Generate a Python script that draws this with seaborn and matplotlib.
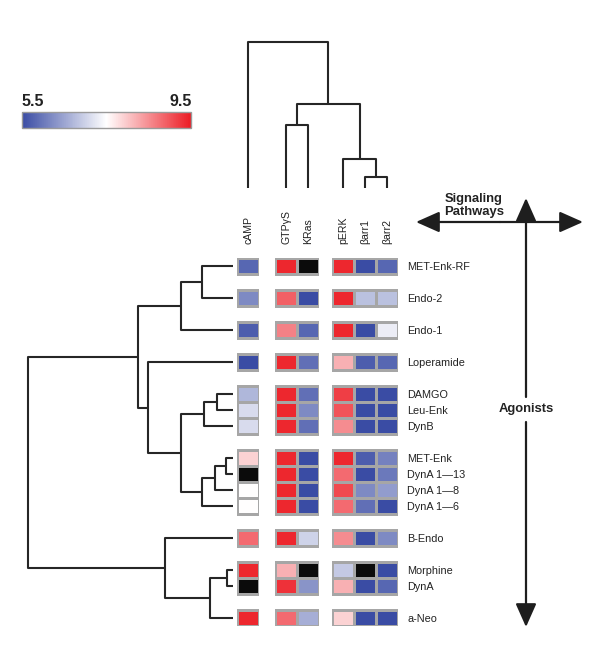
"""
Opioid agonist signaling heatmap with row/column dendrograms
"""

import numpy as np
import pandas as pd
import matplotlib
matplotlib.use("Agg")
import matplotlib.pyplot as plt
import seaborn as sns
from matplotlib.colors import LinearSegmentedColormap, Normalize, to_rgba
from matplotlib.cm import ScalarMappable

# ---------------- data ----------------
pathway_groups = [["cAMP"], ["GTPγS", "KRas"], ["pERK", "βarr1", "βarr2"]]

agonist_groups = [
    ["MET-Enk-RF"],
    ["Endo-2"],
    ["Endo-1"],
    ["Loperamide"],
    ["DAMGO", "Leu-Enk", "DynB"],
    ["MET-Enk", "DynA 1—13", "DynA 1—8", "DynA 1—6"],
    ["B-Endo"],
    ["Morphine", "DynA"],
    ["a-Neo"],
]

# values per pathway, in agonist order (nan = not measured, drawn black)
camp = [5.8, 6.2, 5.7, 5.5, 6.7, 7.1, 7.1, 7.9, np.nan, 7.5, 7.5, 8.8, 9.4, np.nan, 9.4]
gtpgs = [9.4, 8.9, 8.6, 9.4, 9.4, 9.4, 9.4, 9.4, 9.4, 9.4, 9.4, 9.4, 8.2, 9.3, 8.8]
kras = [np.nan, 5.5, 5.8, 5.9, 5.9, 6.2, 5.9, 5.5, 5.5, 5.5, 5.5, 7.0, np.nan, 6.3, 6.6]
perk = [9.4, 9.4, 9.4, 8.2, 9.2, 9.0, 8.5, 9.4, 8.8, 9.1, 8.8, 8.5, 6.9, 8.2, 7.9]
barr1 = [5.5, 6.8, 5.5, 5.7, 5.5, 5.5, 5.5, 5.7, 5.5, 6.2, 5.9, 5.5, np.nan, 5.5, 5.5]
barr2 = [5.8, 6.8, 7.3, 5.8, 5.5, 5.5, 5.5, 6.1, 6.0, 6.4, 5.5, 6.2, 5.5, 5.8, 5.5]

# dendrogram merges: (child, child, height); ints refer to earlier merges
row_merges = [
    ("MET-Enk-RF", "Endo-2", 31),
    (0, "Endo-1", 52),
    ("DAMGO", "Leu-Enk", 16),
    (2, "DynB", 29),
    ("MET-Enk", "DynA 1—13", 7),
    (4, "DynA 1—8", 18),
    (5, "DynA 1—6", 31),
    (3, 6, 52),
    ("Loperamide", 7, 85),
    (1, 8, 95),
    ("Morphine", "DynA", 6),
    (10, "a-Neo", 23),
    ("B-Endo", 11, 68),
    (9, 12, 205),
]
col_merges = [
    ("βarr1", "βarr2", 11),
    ("pERK", 0, 29),
    ("GTPγS", "KRas", 63),
    (2, 1, 84),
    ("cAMP", 3, 146),
]

# ---------------- layout (pixels) ----------------
W, H = 600, 651
row_top, slot_h = 258, 16.0
cell_w = 22
group_left = [237, 275, 332]
vmin, vmax = 5.5, 9.5
edge = "#a6a6a6"

plt.rcParams['font.family'] = ['Liberation Sans', 'DejaVu Sans']

cmap = LinearSegmentedColormap.from_list(
    "bwr_sig", ["#3a4ca4", "#ffffff", "#ec1c24"])
cmap.set_over("#0b0b0b")

fig = plt.figure(figsize=(W / 100, H / 100), dpi=100)


def px_axes(x0, y0, w, h, **kw):
    return fig.add_axes([x0 / W, 1 - (y0 + h) / H, w / W, h / H], **kw)


# overlay for dendrograms, arrows and text
ax0 = px_axes(0, 0, W, H, zorder=0)
ax0.set_xlim(0, W)
ax0.set_ylim(H, 0)
ax0.axis("off")

agonists = [a for g in agonist_groups for a in g]
data = pd.DataFrame({"cAMP": camp, "GTPγS": gtpgs, "KRas": kras,
                     "pERK": perk, "βarr1": barr1, "βarr2": barr2},
                    index=agonists)

# slots: data rows separated by one blank spacer row
slots = []
for i, g in enumerate(agonist_groups):
    if i > 0:
        slots.append(None)
    slots.extend(g)
n_slots = len(slots)
row_center = {a: row_top + (slots.index(a) + 0.5) * slot_h for a in agonists}
col_center = {}

for gi, cols in enumerate(pathway_groups):
    block = []
    for s in slots:
        if s is None:
            block.append([np.nan] * len(cols))
        else:
            vals = data.loc[s, cols].to_numpy(dtype=float)
            block.append(np.where(np.isnan(vals), vmax + 1, vals))
    df = pd.DataFrame(block, columns=cols)
    ax = px_axes(group_left[gi], row_top, cell_w * len(cols), n_slots * slot_h, zorder=2)
    sns.heatmap(df, ax=ax, cmap=cmap, vmin=vmin, vmax=vmax, cbar=False,
                linewidths=0.8, linecolor=edge, xticklabels=True, yticklabels=False)
    # hide the grid lines of the spacer rows
    mesh = ax.collections[0]
    ec = [to_rgba(edge) if s is not None else (0, 0, 0, 0)
          for s in slots for _ in cols]
    mesh.set_edgecolor(ec)
    ax.xaxis.tick_top()
    ax.set_xticklabels(cols, rotation=90, fontsize=7.6, color="#222")
    ax.tick_params(axis="x", length=0, pad=10)
    ax.set_ylabel("")
    for j, c in enumerate(cols):
        col_center[c] = group_left[gi] + (j + 0.5) * cell_w
    if gi == len(pathway_groups) - 1:
        idx = [i for i, s in enumerate(slots) if s is not None]
        ax.yaxis.tick_right()
        ax.set_yticks([i + 0.5 for i in idx])
        ax.set_yticklabels([slots[i] for i in idx], rotation=0, fontsize=7.8, color="#222")
        ax.tick_params(axis="y", length=0, pad=6.5)


def draw_tree(merges, leaf_pos, base, direction, horizontal):
    pos = dict(leaf_pos)
    hgt = {k: 0 for k in leaf_pos}
    for i, (a, b, d) in enumerate(merges):
        pa, pb, ha, hb = pos[a], pos[b], hgt[a], hgt[b]
        h = [base + direction * ha, base + direction * d, base + direction * d, base + direction * hb]
        p = [pa, pa, pb, pb]
        if horizontal:
            ax0.plot(h, p, color="#262626", lw=1.5, solid_capstyle="butt")
        else:
            ax0.plot(p, h, color="#262626", lw=1.5, solid_capstyle="butt")
        pos[i] = (pa + pb) / 2
        hgt[i] = d


draw_tree(row_merges, row_center, 233, -1, True)
draw_tree(col_merges, col_center, 188, -1, False)

# colour bar
cax = px_axes(22, 112, 169, 16)
cb = fig.colorbar(ScalarMappable(Normalize(vmin, vmax), cmap), cax=cax,
                  orientation="horizontal", ticks=[])
cb.outline.set_edgecolor("#9a9a9a")
cb.outline.set_linewidth(1)
ax0.text(21, 102, "5.5", fontsize=11.5, fontweight="bold", ha="left", va="center", color="#222")
ax0.text(192, 102, "9.5", fontsize=11.5, fontweight="bold", ha="right", va="center", color="#222")

# axis arrows
arrow = dict(arrowstyle="-|>,head_length=0.9,head_width=0.4", color="#1e1e1e",
             lw=1.6, mutation_scale=16, shrinkA=0, shrinkB=0)
ax0.annotate("", xy=(583, 222), xytext=(500, 222), arrowprops=arrow)
ax0.annotate("", xy=(416, 222), xytext=(500, 222), arrowprops=arrow)
ax0.annotate("", xy=(526, 198), xytext=(526, 397), arrowprops=arrow)
ax0.annotate("", xy=(526, 627), xytext=(526, 422), arrowprops=arrow)
ax0.text(474, 199, "Signaling", fontsize=9.4, fontweight="bold",
         ha="center", va="center", color="#222")
ax0.text(474, 212, "Pathways", fontsize=9.4, fontweight="bold",
         ha="center", va="center", color="#222")
ax0.text(526, 409, "Agonists", fontsize=9.4, fontweight="bold",
         ha="center", va="center", color="#222")

fig.savefig("out.png", dpi=100)
